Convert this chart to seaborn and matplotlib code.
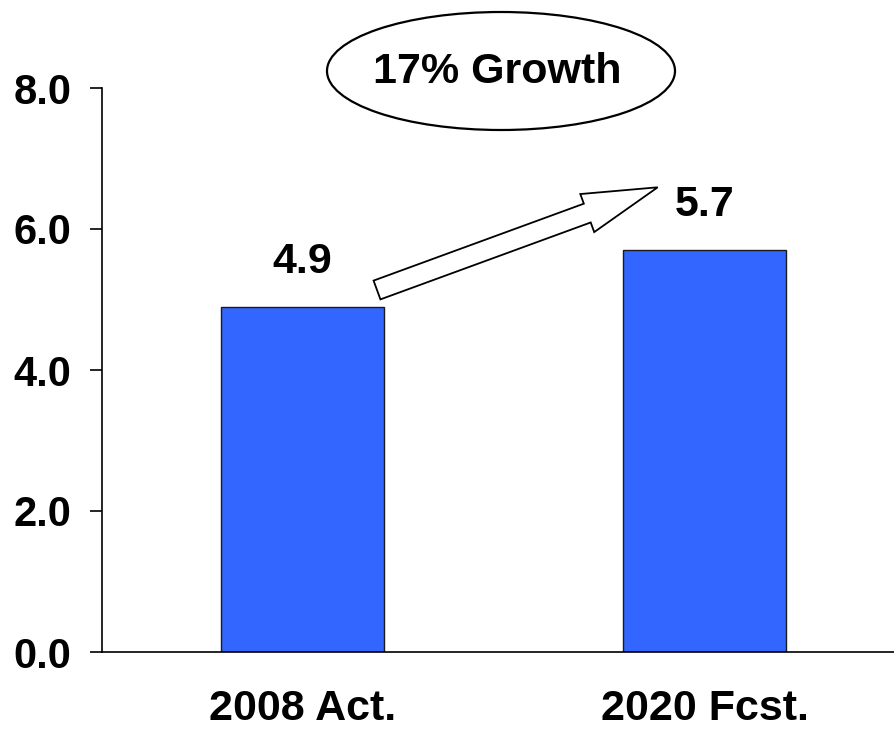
import matplotlib
matplotlib.use("Agg")
import matplotlib.pyplot as plt
from matplotlib.patches import Ellipse, FancyArrow
import seaborn as sns
import pandas as pd

categories = ["2008 Act.", "2020 Fcst."]
values = [4.9, 5.7]
y_ticks = [0.0, 2.0, 4.0, 6.0, 8.0]
growth_label = "17% Growth"

sns.set_theme(style="white")
plt.rcParams["font.family"] = ["Liberation Sans", "DejaVu Sans"]
plt.rcParams["font.weight"] = "bold"

W, H = 894, 733
fig = plt.figure(figsize=(W / 100, H / 100), dpi=100)
ax = fig.add_axes([102 / W, (H - 652) / H, (W - 102) / W, (652 - 88) / H])

df = pd.DataFrame({"category": categories, "value": values})
sns.barplot(data=df, x="category", y="value", color="#3366FF", saturation=1,
            width=0.405, edgecolor="#1a1a1a", linewidth=1.0, ax=ax)

ax.set_ylim(0, 8)
ax.set_xlim(-0.4985, 1.4705)
ax.set_yticks(y_ticks)
ax.set_yticklabels([f"{t:.1f}" for t in y_ticks])
ax.set_xlabel("")
ax.set_ylabel("")

for side in ("top", "right"):
    ax.spines[side].set_visible(False)
for side in ("left", "bottom"):
    ax.spines[side].set_color("black")
    ax.spines[side].set_linewidth(1.2)

ax.tick_params(axis="y", which="major", left=True, length=8.5, width=1.2,
               color="black", pad=13.5, labelsize=30)
ax.tick_params(axis="x", which="major", bottom=False, length=0, pad=27,
               labelsize=31)
for lab in ax.get_xticklabels() + ax.get_yticklabels():
    lab.set_fontweight("bold")
    lab.set_color("black")

ax.bar_label(ax.containers[0], fmt="%.1f", padding=18, fontsize=31,
             fontweight="bold", color="black")

# Growth callout: arrow between the bars and an ellipse with the label
px = fig.dpi_scale_trans
tail = (377 / 100, (H - 290) / 100)
tip = (657.7 / 100, (H - 187.3) / 100)
arrow = FancyArrow(tail[0], tail[1], tip[0] - tail[0], tip[1] - tail[1],
                   width=0.20, head_width=0.405, head_length=0.75,
                   length_includes_head=True, facecolor="white",
                   edgecolor="black", linewidth=1.3, transform=px)
fig.add_artist(arrow)

ell = Ellipse((501 / 100, (H - 71) / 100), 3.48, 1.18, facecolor="white",
              edgecolor="black", linewidth=1.6, transform=px)
fig.add_artist(ell)
fig.text(497 / W, (H - 72) / H, growth_label, ha="center", va="center",
         fontsize=31, fontweight="bold", color="black")

fig.savefig("out.png", dpi=100, facecolor="white")
